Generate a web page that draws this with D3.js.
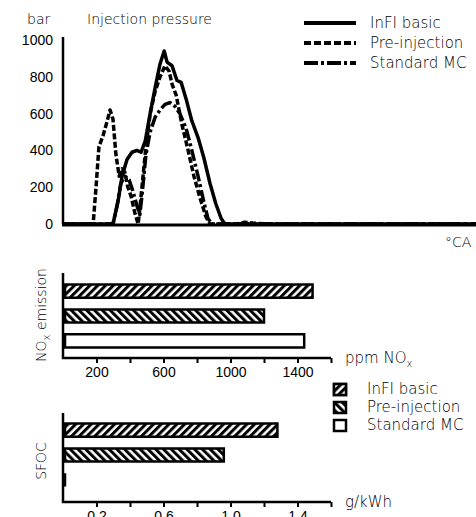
<!DOCTYPE html>
<html>
<head>
<meta charset="utf-8">
<script src="https://cdn.jsdelivr.net/npm/d3@7"></script>
<style>
  body { margin: 0; background: #fff; }
  svg { display: block; font-family: "DejaVu Sans", sans-serif; font-weight: 200; }
  text { fill: #000; }
</style>
</head>
<body>
<script>
// injection pressure traces (crank angle, bar)
const basicAngle = [0, 12.1, 13.3, 14.3, 15.5, 16.7, 17.9, 18.9, 19.9, 21.1, 22.3, 23.5, 24.5, 25.2, 26.4, 27.6, 28.6, 29.8, 31.2, 32.7, 34.1, 35.6, 37.0, 38.3, 39.2, 100];
const basicPressure = [0, 0, 120, 260, 350, 390, 400, 390, 450, 600, 740, 870, 940, 880, 860, 780, 770, 680, 560, 470, 360, 220, 110, 30, 0, 0];

const preAngle = [0, 7.3, 8.0, 8.7, 9.7, 10.7, 11.4, 12.1, 12.8, 13.6, 14.3, 15.0, 15.7, 16.5, 17.4, 18.2, 18.9, 19.9, 21.1, 22.3, 23.5, 24.7, 25.7, 26.4, 27.4, 28.8, 30.3, 31.7, 33.2, 34.6, 35.6, 42, 44, 46, 50, 100];
const prePressure = [0, 0, 200, 420, 480, 560, 620, 570, 380, 260, 300, 280, 200, 150, 60, 0, 150, 380, 600, 720, 800, 860, 830, 760, 700, 540, 400, 260, 140, 40, 0, 0, 10, 5, 0, 0];

const stdAngle = [0, 12.1, 13.1, 14.0, 15.0, 16.0, 16.9, 17.9, 18.6, 19.1, 20.1, 21.1, 22.3, 23.5, 24.7, 25.9, 27.1, 28.3, 29.8, 31.2, 32.7, 34.1, 35.1, 36.1, 100];
const stdPressure = [0, 0, 100, 220, 260, 240, 180, 100, 50, 150, 380, 500, 580, 620, 650, 660, 640, 600, 520, 400, 260, 120, 30, 0, 0];

// bar charts
const cases = ["InFI basic", "Pre-injection", "Standard MC"];
const noxValues = [1490, 1200, 1440];
const sfocValues = [1.28, 0.96, 0];
const noxTicks = [200, 400, 600, 800, 1000, 1200, 1400, 1600];
const noxLabels = [200, 600, 1000, 1400];
const sfocTicks = [0.2, 0.4, 0.6, 0.8, 1.0, 1.2, 1.4, 1.6];
const sfocLabels = [0.2, 0.6, 1.0, 1.4];
const pressureTicks = [0, 200, 400, 600, 800, 1000];

const W = 476, H = 517;
const svg = d3.select("body").append("svg").attr("width", W).attr("height", H);

// hatch patterns
const defs = svg.append("defs");
function hatch(id, angle) {
    const p = defs.append("pattern")
        .attr("id", id)
        .attr("patternUnits", "userSpaceOnUse")
        .attr("width", 5.5).attr("height", 5.5)
        .attr("patternTransform", `rotate(${angle})`);
    p.append("rect").attr("width", 5.5).attr("height", 5.5).attr("fill", "#fff");
    p.append("line").attr("x1", 1.5).attr("x2", 1.5).attr("y1", 0).attr("y2", 5.5)
        .attr("stroke", "#000").attr("stroke-width", 3);
}
hatch("hatchA", 45);
hatch("hatchB", -45);
const fills = ["url(#hatchA)", "url(#hatchB)", "#fff"];

// ---------- top: injection pressure ----------
const x = d3.scaleLinear().domain([0, 100]).range([63, 476]);
const y = d3.scaleLinear().domain([0, 1000]).range([224, 40]);

svg.append("g")
    .attr("transform", "translate(63,0)")
    .call(d3.axisLeft(y).tickValues(pressureTicks).tickSize(0).tickPadding(10).tickFormat(d3.format("d")))
    .call(g => {
        g.select(".domain").attr("stroke-width", 2.5).attr("d", `M0,37V${y(0)}`);
        g.selectAll("text").attr("font-size", 14).attr("font-family", null);
    });

svg.append("line")
    .attr("x1", 62).attr("x2", W).attr("y1", y(0) + 1).attr("y2", y(0) + 1)
    .attr("stroke", "#000").attr("stroke-width", 3);

const line = d3.line().x(d => x(d[0])).y(d => y(d[1]));
const traces = [
    { a: stdAngle, p: stdPressure, dash: "12,3,3,3" },
    { a: preAngle, p: prePressure, dash: "6,2.5" },
    { a: basicAngle, p: basicPressure, dash: null }
];
traces.forEach(t => {
    svg.append("path")
        .datum(d3.zip(t.a, t.p))
        .attr("d", line)
        .attr("fill", "none")
        .attr("stroke", "#000")
        .attr("stroke-width", 3.5)
        .attr("stroke-linejoin", "round")
        .attr("stroke-dasharray", t.dash);
});

svg.append("text").attr("x", 27).attr("y", 24).attr("font-size", 14).text("bar");
svg.append("text").attr("x", 87).attr("y", 24).attr("font-size", 14).text("Injection pressure");
svg.append("text").attr("x", 445).attr("y", 247).attr("font-size", 14).text("°CA");

const lineLegend = [
    { name: "InFI basic", dash: null },
    { name: "Pre-injection", dash: "7,3" },
    { name: "Standard MC", dash: "14,3,3,3" }
];
lineLegend.forEach((d, i) => {
    const ly = 23 + i * 20;
    svg.append("line")
        .attr("x1", 304).attr("x2", 356).attr("y1", ly).attr("y2", ly)
        .attr("stroke", "#000").attr("stroke-width", 4)
        .attr("stroke-dasharray", d.dash);
    svg.append("text").attr("x", 370).attr("y", ly + 5).attr("font-size", 15).text(d.name);
});

// ---------- bar charts ----------
function barChart(values, domainMax, ticks, labels, top, axisY, bandRange, label, unit, labelY) {
    const bx = d3.scaleLinear().domain([0, domainMax]).range([63, 331]);
    const by = d3.scaleBand().domain(cases).range(bandRange).paddingInner(0.47).paddingOuter(0.3);

    svg.append("line")
        .attr("x1", 63).attr("x2", 63).attr("y1", top).attr("y2", axisY + 1)
        .attr("stroke", "#000").attr("stroke-width", 2.5);

    svg.append("g")
        .attr("transform", `translate(0,${axisY})`)
        .call(d3.axisBottom(bx).tickValues(ticks).tickSize(5).tickSizeOuter(0)
            .tickFormat(v => labels.some(l => Math.abs(l - v) < 1e-9) ? (domainMax < 10 ? d3.format(".1f")(v) : v) : ""))
        .call(g => {
            g.select(".domain").attr("stroke-width", 2.5).attr("d", "M62,0H331");
            g.selectAll(".tick line").attr("stroke-width", 2);
            g.selectAll("text").attr("font-size", 14).attr("font-family", null).attr("dy", "0.75em");
        });

    values.forEach((v, i) => {
        const x0 = bx(0) + 2, w = Math.max(bx(v) - bx(0) - 2, 0), y0 = by(cases[i]), h = by.bandwidth();
        svg.append("path")
            .attr("d", `M${x0},${y0}h${w}v${h}h${-w}Z`)
            .attr("fill", fills[i])
            .attr("stroke", "#000")
            .attr("stroke-width", 2.5);
    });

    svg.append("text")
        .attr("transform", `translate(46,${labelY}) rotate(-90)`)
        .attr("text-anchor", "middle")
        .attr("font-size", 14)
        .call(label);

    svg.append("text")
        .attr("x", 345).attr("y", axisY + 5)
        .attr("font-size", 15)
        .call(unit);
}

barChart(noxValues, 1600, noxTicks, noxLabels, 273, 358, [277, 355],
    t => { t.append("tspan").text("NO"); t.append("tspan").attr("font-size", 10).attr("dy", 4).text("x"); t.append("tspan").attr("dy", -4).text(" emission"); },
    t => { t.append("tspan").text("ppm NO"); t.append("tspan").attr("font-size", 10).attr("dy", 4).text("x"); },
    315);

barChart(sfocValues, 1.6, sfocTicks, sfocLabels, 413, 502, [416, 494],
    t => t.text("SFOC"),
    t => t.text("g/kWh"),
    461);

// bar legend
cases.forEach((c, i) => {
    const ly = 384 + i * 18;
    svg.append("rect")
        .attr("x", 334).attr("y", ly).attr("width", 12).attr("height", 11)
        .attr("fill", i === 0 ? "#000" : fills[i])
        .attr("stroke", "#000").attr("stroke-width", 2.5);
    if (i === 0) {
        svg.append("rect")
            .attr("x", 334).attr("y", ly).attr("width", 12).attr("height", 11)
            .attr("fill", fills[0]).attr("stroke", "#000").attr("stroke-width", 2.5);
    }
    svg.append("text").attr("x", 367).attr("y", ly + 10).attr("font-size", 15).text(c);
});
</script>
</body>
</html>
